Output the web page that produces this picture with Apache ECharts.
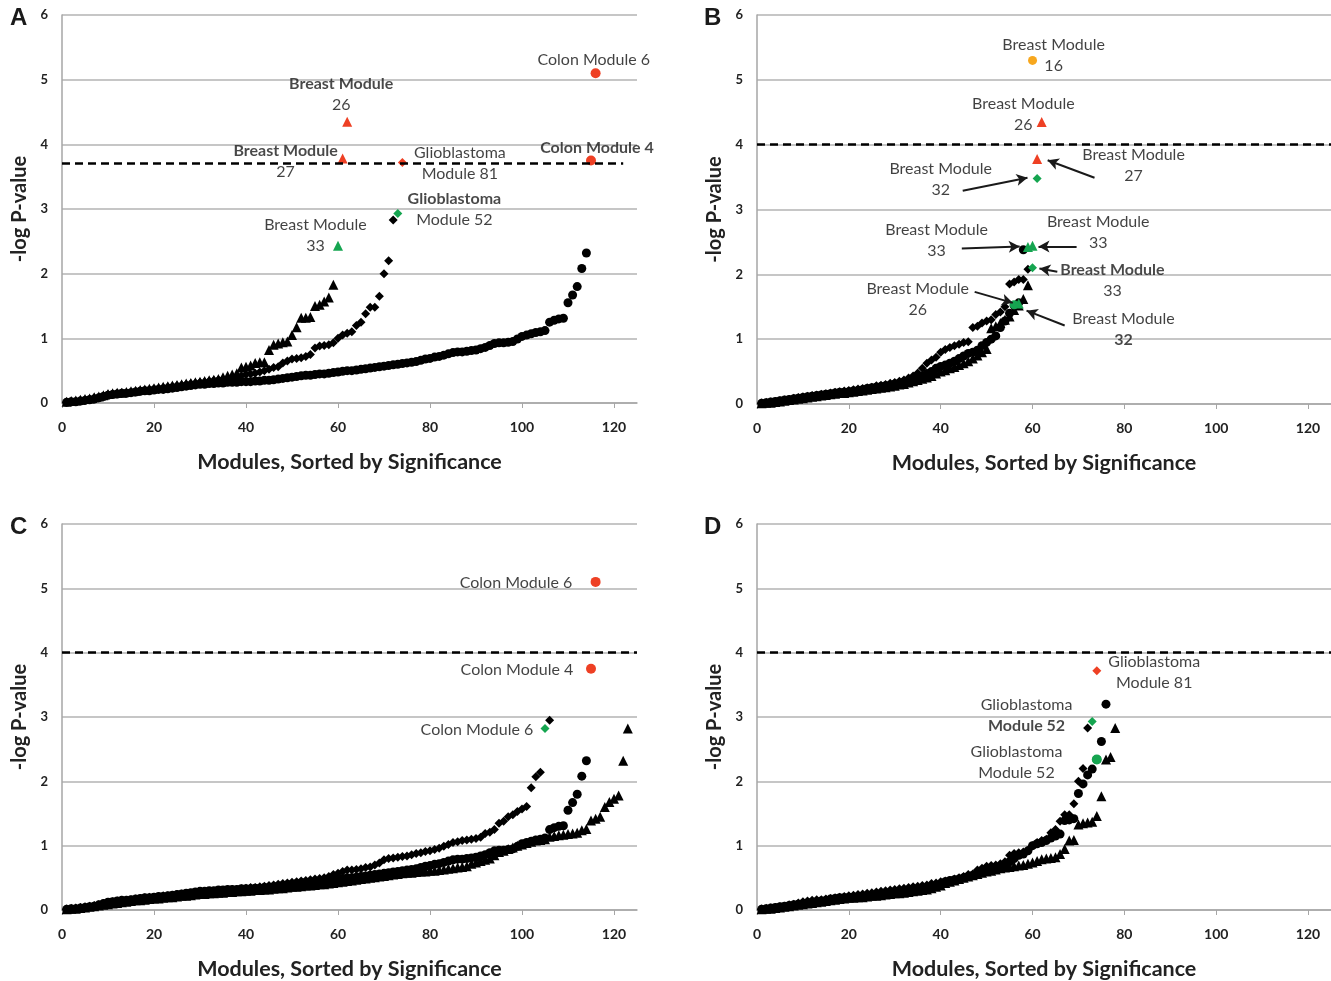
<!DOCTYPE html>
<html><head><meta charset="utf-8">
<script src="https://cdn.jsdelivr.net/npm/echarts@6/dist/echarts.min.js"></script>
<style>html,body{margin:0;padding:0;background:#fff}#c{width:1331px;height:981px}</style>
</head><body><div id="c"></div>
<script>
// ---------- DATA (y = -log P-value, index+1 = module rank) ----------
const xTickValues = [0, 20, 40, 60, 80, 100, 120];

// Panel A
const aBreastTri = [0.02,0.03,0.04,0.05,0.06,0.07,0.09,0.10,0.12,0.14,
  0.15,0.16,0.16,0.17,0.18,0.19,0.20,0.21,0.22,0.23,
  0.24,0.25,0.26,0.27,0.28,0.29,0.30,0.31,0.32,0.33,
  0.34,0.35,0.36,0.37,0.40,0.42,0.44,0.46,0.55,0.56,
  0.58,0.62,0.63,0.63,0.82,0.90,0.92,0.94,0.95,1.05,
  1.17,1.32,1.32,1.33,1.50,1.52,1.57,1.63,1.83];
const glioDia = [0.01,0.02,0.03,0.04,0.05,0.06,0.08,0.09,0.11,0.13,
  0.14,0.15,0.16,0.16,0.17,0.18,0.19,0.20,0.21,0.22,
  0.23,0.24,0.25,0.26,0.27,0.28,0.29,0.30,0.31,0.32,
  0.33,0.34,0.35,0.36,0.37,0.38,0.39,0.41,0.42,0.44,
  0.45,0.46,0.48,0.50,0.52,0.55,0.56,0.62,0.65,0.68,
  0.69,0.70,0.72,0.75,0.85,0.88,0.89,0.90,0.93,1.00,
  1.05,1.08,1.10,1.20,1.25,1.38,1.48,1.48,1.65,2.00,2.20,2.83];
const colonCirc = [0.01,0.02,0.02,0.03,0.04,0.05,0.06,0.08,0.10,0.12,
  0.13,0.14,0.15,0.15,0.16,0.17,0.18,0.19,0.19,0.20,
  0.21,0.21,0.22,0.23,0.24,0.25,0.26,0.27,0.28,0.29,
  0.29,0.30,0.30,0.31,0.31,0.32,0.32,0.32,0.33,0.33,
  0.33,0.34,0.34,0.35,0.35,0.36,0.37,0.38,0.39,0.40,
  0.41,0.42,0.43,0.43,0.44,0.45,0.45,0.46,0.47,0.48,
  0.49,0.50,0.50,0.51,0.52,0.53,0.54,0.55,0.56,0.57,
  0.58,0.59,0.60,0.61,0.62,0.63,0.64,0.66,0.68,0.69,
  0.71,0.72,0.74,0.76,0.78,0.79,0.79,0.80,0.81,0.82,
  0.84,0.86,0.89,0.92,0.93,0.93,0.94,0.95,0.99,1.03,
  1.05,1.07,1.09,1.10,1.12,1.25,1.28,1.30,1.31,1.55,
  1.67,1.80,2.08,2.32];
const aRedTri = [[61,3.78],[62,4.35]];
const aGreenTri = [[60,2.43]];
const aGreenDia = [[73,2.93]];
const aRedDia = [[74,3.72]];
const colonRedCirc = [[115,3.75],[116,5.10]];
const aThreshold = 3.7;

// Panel B
const bCirc = [0.01,0.02,0.03,0.04,0.05,0.06,0.07,0.08,0.09,0.10,
  0.11,0.12,0.13,0.14,0.15,0.16,0.17,0.18,0.18,0.19,
  0.20,0.21,0.22,0.24,0.25,0.26,0.27,0.28,0.29,0.31,
  0.32,0.34,0.36,0.38,0.40,0.43,0.47,0.50,0.55,0.58,
  0.60,0.63,0.66,0.70,0.74,0.78,0.80,0.83,0.90,0.95,
  1.00,1.05,1.18,1.28,1.40,1.52,1.56,2.38];
const bDia = [0.01,0.02,0.03,0.04,0.05,0.06,0.07,0.09,0.10,0.11,
  0.12,0.13,0.14,0.15,0.16,0.17,0.18,0.19,0.20,0.21,
  0.22,0.23,0.24,0.25,0.26,0.28,0.29,0.30,0.32,0.33,
  0.35,0.37,0.40,0.43,0.48,0.55,0.63,0.68,0.72,0.80,
  0.84,0.87,0.90,0.92,0.95,0.96,1.18,1.20,1.25,1.28,
  1.30,1.38,1.42,1.50,1.85,1.88,1.92,1.92,2.08];
const bTri = [0.01,0.02,0.02,0.03,0.04,0.05,0.06,0.07,0.08,0.09,
  0.10,0.11,0.12,0.13,0.14,0.15,0.16,0.17,0.17,0.18,
  0.19,0.20,0.21,0.22,0.23,0.24,0.25,0.26,0.27,0.28,
  0.30,0.31,0.33,0.35,0.37,0.39,0.41,0.43,0.47,0.50,
  0.52,0.55,0.57,0.60,0.63,0.66,0.70,0.75,0.80,0.85,
  1.17,1.20,1.25,1.30,1.35,1.45,1.52,1.62,1.83];
const bOrangeCirc = [[60,5.30]];
const bRedTri = [[61,3.78],[62,4.35]];
const bGreenDia = [[61,3.48],[60,2.10]];
const bGreenTri = [[59,2.42],[60,2.44],[57,1.55]];
const bGreenCirc = [[56,1.53]];
const bThreshold = 4;

// Panel C
const cGlioDia = [0.01,0.02,0.03,0.04,0.05,0.06,0.07,0.08,0.10,0.12,
  0.13,0.14,0.15,0.15,0.16,0.17,0.18,0.19,0.20,0.20,
  0.21,0.22,0.22,0.23,0.24,0.25,0.25,0.26,0.27,0.28,
  0.28,0.29,0.29,0.30,0.30,0.31,0.32,0.32,0.33,0.34,
  0.35,0.35,0.36,0.37,0.38,0.39,0.40,0.41,0.42,0.43,
  0.44,0.45,0.46,0.47,0.48,0.49,0.50,0.52,0.55,0.57,
  0.60,0.62,0.62,0.63,0.64,0.66,0.67,0.70,0.73,0.78,
  0.80,0.81,0.82,0.83,0.84,0.86,0.88,0.89,0.91,0.92,
  0.94,0.96,0.99,1.02,1.05,1.06,1.08,1.09,1.10,1.11,
  1.13,1.19,1.21,1.25,1.35,1.38,1.45,1.48,1.53,1.57,
  1.61,1.90,2.07,2.14,null,2.95];
const cBreastTri = [0.01,0.02,0.02,0.03,0.04,0.05,0.06,0.07,0.08,0.09,
  0.10,0.11,0.12,0.13,0.14,0.15,0.15,0.16,0.17,0.18,
  0.18,0.19,0.20,0.20,0.21,0.22,0.22,0.23,0.24,0.25,
  0.25,0.26,0.26,0.27,0.27,0.28,0.28,0.29,0.29,0.30,
  0.30,0.31,0.31,0.32,0.32,0.33,0.34,0.34,0.35,0.36,
  0.36,0.37,0.38,0.38,0.39,0.40,0.40,0.41,0.42,0.43,
  0.44,0.45,0.46,0.47,0.48,0.49,0.50,0.51,0.52,0.53,
  0.54,0.55,0.56,0.57,0.58,0.58,0.59,0.60,0.60,0.61,
  0.61,0.62,0.63,0.64,0.65,0.66,0.67,0.68,0.72,0.74,
  0.76,0.78,0.80,0.85,0.90,0.92,0.95,0.97,1.00,1.02,
  1.04,1.06,1.08,1.09,1.10,1.14,1.15,1.16,1.17,1.18,
  1.19,1.20,1.24,1.26,1.39,1.42,1.45,1.60,1.68,1.73,
  1.78,2.32,2.82];
const cGreenDia = [[105,2.82]];
const cThreshold = 4;

// Panel D
const dCirc = [0.01,0.02,0.03,0.04,0.05,0.06,0.07,0.08,0.09,0.10,
  0.11,0.12,0.13,0.14,0.15,0.17,0.18,0.19,0.19,0.20,
  0.20,0.21,0.21,0.22,0.22,0.23,0.24,0.25,0.26,0.27,
  0.28,0.29,0.30,0.31,0.32,0.33,0.34,0.36,0.38,0.40,
  0.44,0.46,0.47,0.48,0.50,0.52,0.54,0.56,0.58,0.60,
  0.62,0.64,0.66,0.70,0.75,0.80,0.85,0.87,0.92,1.00,
  1.03,1.05,1.08,1.12,1.15,1.18,1.39,1.40,1.42,1.81,
  1.96,2.10,2.19,2.34,2.62,3.20];
const dTri = [0.01,0.02,0.02,0.03,0.04,0.05,0.06,0.07,0.08,0.09,
  0.10,0.11,0.12,0.13,0.14,0.15,0.16,0.17,0.18,0.19,
  0.19,0.20,0.20,0.21,0.22,0.22,0.23,0.24,0.25,0.26,
  0.26,0.27,0.28,0.29,0.30,0.31,0.32,0.34,0.36,0.38,
  0.42,0.44,0.46,0.48,0.50,0.52,0.54,0.56,0.58,0.60,
  0.61,0.63,0.65,0.66,0.67,0.68,0.69,0.70,0.72,0.74,
  0.76,0.79,0.80,0.81,0.82,0.87,0.95,1.08,1.09,1.33,
  1.35,1.36,1.37,1.46,1.77,2.34,2.38,2.83];
const dRedDia = [[74,3.72]];
const dGreenDia = [[73,2.93]];
const dGreenCirc = [[74,2.34]];
const dThreshold = 4;

// Annotations: [x, y, rich text]
const aLabels = [
  [115.6, 5.30, '{n|Colon Module 6}'],
  [60.7, 4.77, '{b|Breast Module}\n{n|26}'],
  [48.6, 3.73, '{b|Breast Module}\n{n|27}'],
  [86.5, 3.70, '{n|Glioblastoma}\n{n|Module 81}'],
  [116.3, 3.94, '{b|Colon Module 4}'],
  [85.3, 3.00, '{b|Glioblastoma}\n{n|Module 52}'],
  [55.1, 2.60, '{n|Breast Module}\n{n|33}']
];
const bLabels = [
  [64.6, 5.38, '{n|Breast Module}\n{n|16}'],
  [58.0, 4.47, '{n|Breast Module}\n{n|26}'],
  [82.0, 3.68, '{n|Breast Module}\n{n|27}'],
  [40.0, 3.46, '{n|Breast Module}\n{n|32}'],
  [39.1, 2.52, '{n|Breast Module}\n{n|33}'],
  [74.3, 2.64, '{n|Breast Module}\n{n|33}'],
  [77.4, 1.90, '{b|Breast Module}\n{n|33}'],
  [35.0, 1.62, '{n|Breast Module}\n{n|26}'],
  [79.8, 1.15, '{n|Breast Module}\n{b|32}']
];
const bArrows = [
  [73.5, 3.49, 63.3, 3.76],
  [44.8, 3.29, 58.9, 3.49],
  [44.6, 2.40, 57.2, 2.43],
  [69.6, 2.43, 61.3, 2.43],
  [65.4, 2.04, 61.5, 2.09],
  [47.4, 1.73, 55.7, 1.56],
  [67.0, 1.21, 58.7, 1.44]
];
const cLabels = [
  [98.7, 5.09, '{n|Colon Module 6}'],
  [98.9, 3.73, '{n|Colon Module 4}'],
  [90.2, 2.80, '{n|Colon Module 6}']
];
const dLabels = [
  [86.5, 3.69, '{n|Glioblastoma}\n{n|Module 81}'],
  [58.7, 3.02, '{n|Glioblastoma}\n{b|Module 52}'],
  [56.5, 2.30, '{n|Glioblastoma}\n{n|Module 52}']
];

// ---------- CHART ----------
const FONT = 'Lato';
const RED = '#ee4024', GREEN = '#15a550', ORANGE = '#f7a71e', BLACK = '#000';
const grids = [
  {left: 62, top: 15, width: 575, height: 388},
  {left: 757, top: 15, width: 574, height: 389},
  {left: 62, top: 524, width: 575, height: 388},
  {left: 757, top: 524, width: 574, height: 388}
];
function pts(arr) { const o = []; arr.forEach((v, i) => { if (v !== null) o.push([i + 1, v]); }); return o; }
const symSize = {circle: 9, diamond: 9, triangle: 10};
function sc(gi, data, symbol, color, z, size) {
  return {type: 'scatter', xAxisIndex: gi, yAxisIndex: gi, data: data, symbol: symbol,
    symbolSize: size || symSize[symbol], itemStyle: {color: color, opacity: 1}, z: z || 2, silent: true};
}
const rich = {
  b: {fontFamily: FONT, fontWeight: 'bold', fontSize: 16, lineHeight: 21, color: '#1a1a1a'},
  n: {fontFamily: FONT, fontWeight: 'normal', fontSize: 16, lineHeight: 21, color: '#111'}
};
function labels(gi, list) {
  return {type: 'scatter', xAxisIndex: gi, yAxisIndex: gi, symbolSize: 0, z: 5, silent: true,
    data: list.map(l => ({value: [l[0], l[1]], txt: l[2]})),
    label: {show: true, position: 'inside', formatter: p => p.data.txt, rich: rich}};
}
function threshold(gi, y, xEnd) {
  const line = xEnd ? [[{coord: [0, y]}, {coord: [xEnd, y]}]] : [{yAxis: y}];
  return {type: 'line', xAxisIndex: gi, yAxisIndex: gi, data: [], silent: true,
    markLine: {silent: true, symbol: ['none', 'none'], label: {show: false}, animation: false,
      lineStyle: {color: '#000', type: [8, 5], width: 2.5}, data: line}};
}
function arrows(gi, list) {
  return {type: 'line', xAxisIndex: gi, yAxisIndex: gi, data: [], silent: true,
    markLine: {silent: true, symbol: ['none', 'arrow'], symbolSize: [9, 11], label: {show: false}, animation: false,
      lineStyle: {color: '#1a1a1a', type: 'solid', width: 2},
      data: list.map(a => [{coord: [a[0], a[1]]}, {coord: [a[2], a[3]]}])}};
}
const xAxes = grids.map((g, i) => ({
  type: 'value', gridIndex: i, min: 0, max: 125,
  name: 'Modules, Sorted by Significance', nameLocation: 'middle', nameGap: 48,
  nameTextStyle: {fontFamily: FONT, fontWeight: 'bold', fontSize: 21.5, color: '#222'},
  axisLine: {show: true, lineStyle: {color: '#a6a6a6', width: 1.5}},
  axisTick: {show: true, inside: false, length: 5, customValues: xTickValues, lineStyle: {color: '#a6a6a6'}},
  axisLabel: {customValues: xTickValues, margin: 17, fontFamily: FONT, fontWeight: 'bold', fontSize: 14, color: '#222'},
  splitLine: {show: false}
}));
const yAxes = grids.map((g, i) => ({
  type: 'value', gridIndex: i, min: 0, max: 6, interval: 1,
  name: '-log P-value', nameLocation: 'middle', nameGap: 32,
  nameTextStyle: {fontFamily: FONT, fontWeight: 'bold', fontSize: 20, color: '#222'},
  axisLine: {show: true, lineStyle: {color: '#a6a6a6', width: 1.5}},
  axisTick: {show: false},
  axisLabel: {margin: 14, fontFamily: FONT, fontWeight: 'bold', fontSize: 13, color: '#222'},
  splitLine: {show: true, lineStyle: {color: '#b3b3b3', width: 1.5}}
}));
const series = [
  // A
  sc(0, pts(colonCirc), 'circle', BLACK),
  sc(0, pts(glioDia), 'diamond', BLACK),
  sc(0, pts(aBreastTri), 'triangle', BLACK),
  sc(0, aRedTri, 'triangle', RED, 3),
  sc(0, aGreenTri, 'triangle', GREEN, 3),
  sc(0, aGreenDia, 'diamond', GREEN, 3),
  sc(0, aRedDia, 'diamond', RED, 3),
  sc(0, colonRedCirc, 'circle', RED, 3, 10),
  threshold(0, aThreshold, 122),
  labels(0, aLabels),
  // B
  sc(1, pts(bCirc), 'circle', BLACK),
  sc(1, pts(bDia), 'diamond', BLACK),
  sc(1, pts(bTri), 'triangle', BLACK),
  sc(1, bOrangeCirc, 'circle', ORANGE, 3),
  sc(1, bRedTri, 'triangle', RED, 3),
  sc(1, bGreenDia, 'diamond', GREEN, 3),
  sc(1, bGreenTri, 'triangle', GREEN, 3),
  sc(1, bGreenCirc, 'circle', GREEN, 3),
  threshold(1, bThreshold),
  arrows(1, bArrows),
  labels(1, bLabels),
  // C
  sc(2, pts(colonCirc), 'circle', BLACK),
  sc(2, pts(cGlioDia), 'diamond', BLACK),
  sc(2, pts(cBreastTri), 'triangle', BLACK),
  sc(2, colonRedCirc, 'circle', RED, 3, 10),
  sc(2, cGreenDia, 'diamond', GREEN, 3),
  threshold(2, cThreshold),
  labels(2, cLabels),
  // D
  sc(3, pts(dCirc), 'circle', BLACK),
  sc(3, pts(glioDia), 'diamond', BLACK),
  sc(3, pts(dTri), 'triangle', BLACK),
  sc(3, dRedDia, 'diamond', RED, 3),
  sc(3, dGreenDia, 'diamond', GREEN, 3),
  sc(3, dGreenCirc, 'circle', GREEN, 3, 10),
  threshold(3, dThreshold),
  labels(3, dLabels)
];
const letters = [['A', 10, 6], ['B', 704, 6], ['C', 10, 515], ['D', 704, 515]];
const chart = echarts.init(document.getElementById('c'), null, {renderer: 'canvas'});
chart.setOption({
  animation: false,
  backgroundColor: '#fff',
  grid: grids,
  xAxis: xAxes,
  yAxis: yAxes,
  series: series,
  graphic: letters.map(l => ({type: 'text', left: l[1], top: l[2], silent: true,
    style: {text: l[0], fontFamily: 'Liberation Sans', fontWeight: 'bold', fontSize: 24, fill: '#1a1a1a'}}))
});
</script></body></html>
